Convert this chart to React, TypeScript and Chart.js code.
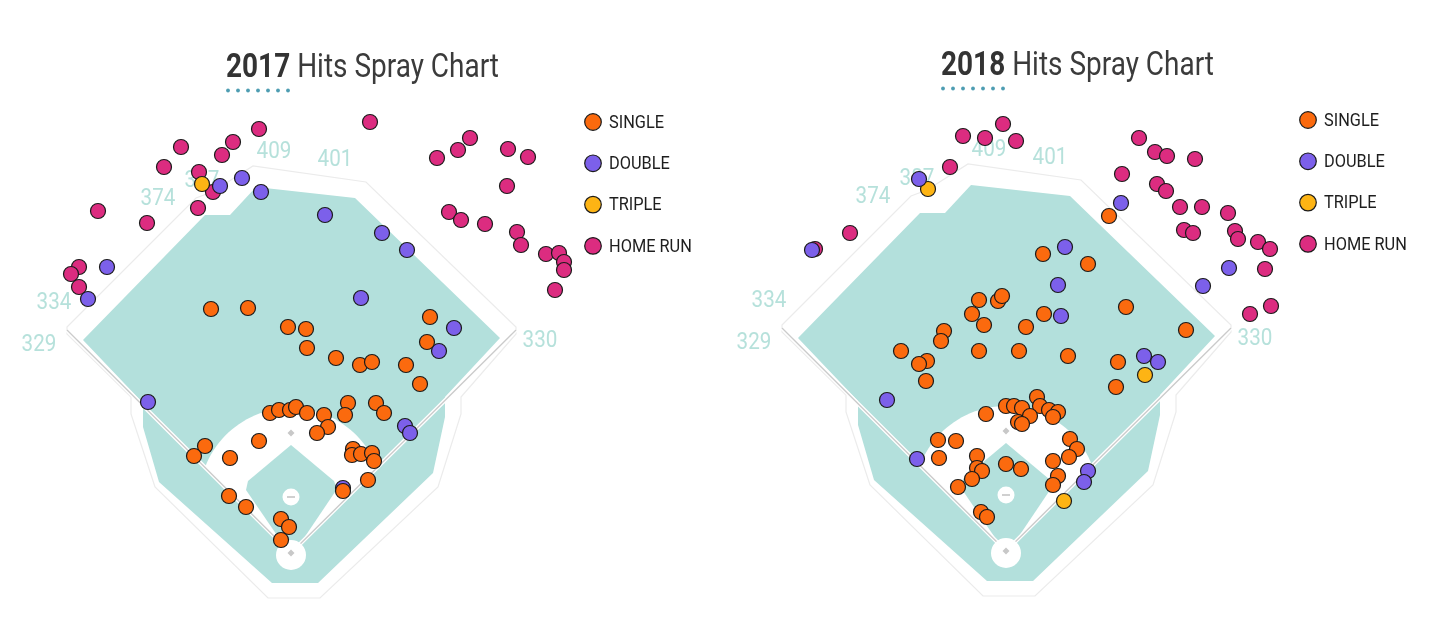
import { useEffect, useRef } from "react";
import { Chart, registerables } from "chart.js";

Chart.register(...registerables);

type Pt = [number, number];

const HIT_TYPES = ["SINGLE", "DOUBLE", "TRIPLE", "HOME RUN"];
const HIT_COLORS = ["#fb6a0e", "#7c60ea", "#fdb414", "#dc2c80"];

// hit locations (page coordinates)
const singles2017: Pt[] = [
  [211, 309], [248, 308], [430, 317], [288, 327], [306, 329], [427, 342], [307, 348],
  [336, 358], [360, 365], [372, 362], [406, 365], [420, 384], [348, 403], [376, 403],
  [384, 413], [270, 413], [279, 410], [290, 410], [296, 407], [307, 413], [324, 415],
  [345, 415], [328, 427], [317, 433], [259, 441], [205, 446], [194, 456], [230, 458],
  [353, 449], [352, 455], [361, 454], [372, 453], [374, 461], [368, 480], [343, 491],
  [229, 496], [246, 507], [281, 519], [289, 527], [281, 540],
];
const doubles2017: Pt[] = [
  [107, 267], [88, 299], [220, 186], [242, 178], [261, 192], [325, 215], [382, 233],
  [407, 250], [361, 298], [454, 328], [439, 351], [148, 402], [405, 426], [410, 433],
  [343, 488],
];
const triples2017: Pt[] = [[202, 184]];
const homers2017: Pt[] = [
  [370, 122], [259, 129], [233, 142], [181, 147], [222, 155], [164, 167], [199, 172],
  [213, 192], [198, 208], [98, 211], [147, 223], [437, 158], [458, 150], [470, 138],
  [508, 149], [528, 157], [507, 186], [449, 212], [461, 220], [485, 224], [517, 232],
  [521, 245], [546, 254], [559, 253], [564, 262], [564, 270], [555, 290], [79, 267],
  [71, 274], [79, 287],
];

const singles2018: Pt[] = [
  [1109, 216], [1043, 254], [1088, 264], [979, 300], [998, 301], [1002, 296], [972, 314],
  [1044, 314], [1126, 307], [984, 325], [1026, 327], [944, 331], [941, 341], [1186, 330],
  [901, 351], [979, 351], [1019, 351], [1068, 356], [927, 361], [919, 364], [1118, 362],
  [926, 381], [1116, 387], [1037, 397], [1006, 406], [1014, 406], [1022, 408], [1040, 406],
  [1049, 410], [1058, 412], [1053, 417], [1030, 416], [1018, 422], [1022, 424], [986, 414],
  [938, 440], [956, 441], [1070, 439], [1077, 449], [939, 458], [977, 456], [1069, 457],
  [1053, 461], [1006, 464], [1021, 469], [977, 468], [982, 471], [972, 479], [1058, 476],
  [1053, 485], [958, 487], [981, 512], [987, 517],
];
const doubles2018: Pt[] = [
  [919, 179], [1121, 203], [812, 250], [1065, 247], [1058, 285], [1061, 316], [1229, 268],
  [1203, 286], [1144, 356], [1158, 362], [887, 400], [917, 459], [1088, 471], [1084, 482],
];
const triples2018: Pt[] = [[928, 189], [1145, 375], [1064, 501]];
const homers2018: Pt[] = [
  [1003, 124], [963, 136], [985, 138], [1016, 141], [950, 167], [1139, 138], [1155, 152],
  [1167, 156], [1195, 159], [1122, 174], [1157, 184], [1166, 191], [1180, 207], [1202, 207],
  [1228, 213], [1184, 230], [1193, 233], [1235, 231], [1238, 239], [1258, 242], [1270, 249],
  [1265, 269], [1271, 306], [1250, 314], [850, 233], [815, 249],
];

// ballpark outline, in the left panel's units
const OUTER_WALL: Pt[] = [
  [67, 327], [196, 198], [212, 192], [253, 166], [366, 182], [516, 327], [516, 334],
  [461, 397], [461, 414], [438, 487], [320, 598], [268, 598], [155, 487], [131, 414],
  [131, 397], [67, 334],
];
const OUTFIELD: Pt[] = [
  [83, 340], [205, 215], [230, 215], [256, 187], [355, 198], [500, 338], [445, 397],
  [445, 417], [433, 473], [318, 583], [272, 583], [159, 482], [143, 427], [143, 403],
];
const INFIELD_GRASS: Pt[] = [
  [291, 445], [334, 481], [337, 489], [298, 547], [285, 547], [246, 490], [248, 481],
];
const HOME: Pt = [291, 553];
const LEFT_POLE: Pt = [67, 330];
const RIGHT_POLE: Pt = [516, 330];
const MOUND: Pt = [291, 497];
const SECOND_BASE: Pt = [291, 433];

const DISTANCES = ["329", "334", "374", "387", "409", "401", "330"];
const DISTANCE_SPOTS: Pt[] = [
  [39, 345], [54, 303], [158, 199], [202, 181], [274, 152], [335, 160], [540, 341],
];

const TEAL = "#b3e0dc";

function SprayPanel({ year, hits, ox, oy }: { year: string; hits: Pt[][]; ox: number; oy: number }) {
  const chartRef = useRef<HTMLCanvasElement>(null);
  const chartInstance = useRef<Chart | null>(null);

  useEffect(() => {
    if (!chartRef.current) return;
    if (chartInstance.current) chartInstance.current.destroy();

    const fieldPlugin = {
      id: "field",
      beforeDatasetsDraw(chart: any) {
        const { ctx, scales } = chart;
        const X = (v: number) => scales.x.getPixelForValue(v + ox);
        const Y = (v: number) => scales.y.getPixelForValue(v + oy);
        const poly = (pts: Pt[]) => {
          ctx.beginPath();
          pts.forEach(([x, y], i) => (i ? ctx.lineTo(X(x), Y(y)) : ctx.moveTo(X(x), Y(y))));
          ctx.closePath();
        };
        ctx.save();

        poly(OUTER_WALL);
        ctx.fillStyle = "#fff";
        ctx.fill();
        ctx.strokeStyle = "#ebebeb";
        ctx.lineWidth = 1.2;
        ctx.stroke();

        poly(OUTFIELD);
        ctx.fillStyle = TEAL;
        ctx.fill();

        // infield dirt: arc around the mound, closed along the foul lines
        const cx = 291, cy = 500, r = 92;
        const a0 = Math.atan2(467 - cy, 205 - cx);
        const a1 = Math.atan2(467 - cy, 377 - cx);
        const arc: Pt[] = [];
        for (let i = 0; i <= 48; i++) {
          const a = a0 + ((a1 - a0) * i) / 48;
          arc.push([cx + r * Math.cos(a), cy + r * Math.sin(a)]);
        }
        poly([HOME, ...arc]);
        ctx.fillStyle = "#fff";
        ctx.fill();

        poly(INFIELD_GRASS);
        ctx.fillStyle = TEAL;
        ctx.fill();

        // foul lines
        const foul = () => {
          ctx.beginPath();
          ctx.moveTo(X(LEFT_POLE[0]), Y(LEFT_POLE[1]));
          ctx.lineTo(X(HOME[0]), Y(HOME[1]));
          ctx.lineTo(X(RIGHT_POLE[0]), Y(RIGHT_POLE[1]));
        };
        foul();
        ctx.strokeStyle = "#fff";
        ctx.lineWidth = 4;
        ctx.stroke();
        foul();
        ctx.strokeStyle = "#cbcbcb";
        ctx.lineWidth = 1.3;
        ctx.stroke();

        // home plate circle and mound
        ctx.fillStyle = "#fff";
        ctx.beginPath();
        ctx.arc(X(291), Y(555), 15, 0, Math.PI * 2);
        ctx.fill();
        ctx.beginPath();
        ctx.arc(X(MOUND[0]), Y(MOUND[1]), 8.5, 0, Math.PI * 2);
        ctx.fill();
        ctx.strokeStyle = "#c4c4c4";
        ctx.lineWidth = 1.6;
        ctx.beginPath();
        ctx.moveTo(X(MOUND[0] - 4), Y(MOUND[1]));
        ctx.lineTo(X(MOUND[0] + 4), Y(MOUND[1]));
        ctx.stroke();

        ctx.fillStyle = "#c8c8c8";
        [SECOND_BASE, HOME].forEach(([bx, by]) => {
          const px = X(bx), py = Y(by);
          ctx.beginPath();
          ctx.moveTo(px, py - 3.5);
          ctx.lineTo(px + 3.5, py);
          ctx.lineTo(px, py + 3.5);
          ctx.lineTo(px - 3.5, py);
          ctx.closePath();
          ctx.fill();
        });

        // fence distances
        ctx.fillStyle = "#b6e1db";
        ctx.font = "24px Roboto";
        ctx.textAlign = "center";
        ctx.textBaseline = "middle";
        DISTANCES.forEach((d, i) => {
          const [dx, dy] = DISTANCE_SPOTS[i];
          ctx.save();
          ctx.translate(X(dx), Y(dy));
          ctx.scale(0.86, 1);
          ctx.fillText(d, 0, 0);
          ctx.restore();
        });
        ctx.restore();
      },
      afterDraw(chart: any) {
        const { ctx } = chart;
        ctx.save();
        // title
        const bold = "700 34px Roboto";
        const reg = "400 34px Roboto";
        const rest = " Hits Spray Chart";
        ctx.font = bold;
        const w1 = ctx.measureText(year).width;
        ctx.font = reg;
        const w2 = ctx.measureText(rest).width;
        const s = 273 / (w1 + w2);
        ctx.translate(226, 77);
        ctx.scale(s, 1);
        ctx.textBaseline = "alphabetic";
        ctx.textAlign = "left";
        ctx.font = bold;
        ctx.fillStyle = "#333";
        ctx.fillText(year, 0, 0);
        ctx.font = reg;
        ctx.fillStyle = "#3b3b3b";
        ctx.fillText(rest, w1, 0);
        ctx.restore();

        ctx.save();
        ctx.fillStyle = "#4e9db2";
        for (let i = 0; i < 7; i++) {
          ctx.beginPath();
          ctx.arc(228 + i * 10, 90.5, 1.9, 0, Math.PI * 2);
          ctx.fill();
        }

        // legend
        HIT_TYPES.forEach((label, i) => {
          const ly = 122 + i * 41.3;
          ctx.beginPath();
          ctx.arc(593, ly, 8.3, 0, Math.PI * 2);
          ctx.fillStyle = HIT_COLORS[i];
          ctx.fill();
          ctx.strokeStyle = "#1b1b1b";
          ctx.lineWidth = 1.2;
          ctx.stroke();
          ctx.save();
          ctx.translate(609, ly + 1);
          ctx.scale(0.86, 1);
          ctx.font = "19px Roboto";
          ctx.fillStyle = "#1e1e1e";
          ctx.textBaseline = "middle";
          ctx.textAlign = "left";
          ctx.fillText(label, 0, 0);
          ctx.restore();
        });
        ctx.restore();
      },
    };

    chartInstance.current = new Chart(chartRef.current, {
      type: "scatter",
      data: {
        datasets: HIT_TYPES.map((label, i) => ({
          label,
          data: hits[i].map(([x, y]) => ({ x, y })),
          pointBackgroundColor: HIT_COLORS[i],
          pointBorderColor: "#1b1b1b",
          pointBorderWidth: 1.2,
          pointRadius: 7.5,
          pointHoverRadius: 7.5,
          clip: false,
        })),
      },
      options: {
        responsive: false,
        animation: false,
        events: [],
        layout: { padding: 0, autoPadding: false },
        plugins: {
          legend: { display: false },
          tooltip: { enabled: false },
        },
        scales: {
          x: { type: "linear", min: ox, max: ox + 720, display: false },
          y: { type: "linear", min: oy, max: oy + 626, reverse: true, display: false },
        },
      },
      plugins: [fieldPlugin],
    });

    return () => {
      if (chartInstance.current) {
        chartInstance.current.destroy();
        chartInstance.current = null;
      }
    };
  }, [year, hits, ox, oy]);

  return (
    <canvas
      ref={chartRef}
      width={720}
      height={626}
      style={{ position: "absolute", left: ox, top: oy, width: 720, height: 626 }}
    ></canvas>
  );
}

const hits2017 = [singles2017, doubles2017, triples2017, homers2017];
const hits2018 = [singles2018, doubles2018, triples2018, homers2018];

export default function App() {
  return (
    <div
      style={{
        position: "fixed",
        left: 0,
        top: 0,
        width: 1440,
        height: 626,
        overflow: "hidden",
        background: "#fff",
      }}
    >
      <SprayPanel year="2017" hits={hits2017} ox={0} oy={0} />
      <SprayPanel year="2018" hits={hits2018} ox={715} oy={-2} />
    </div>
  );
}
